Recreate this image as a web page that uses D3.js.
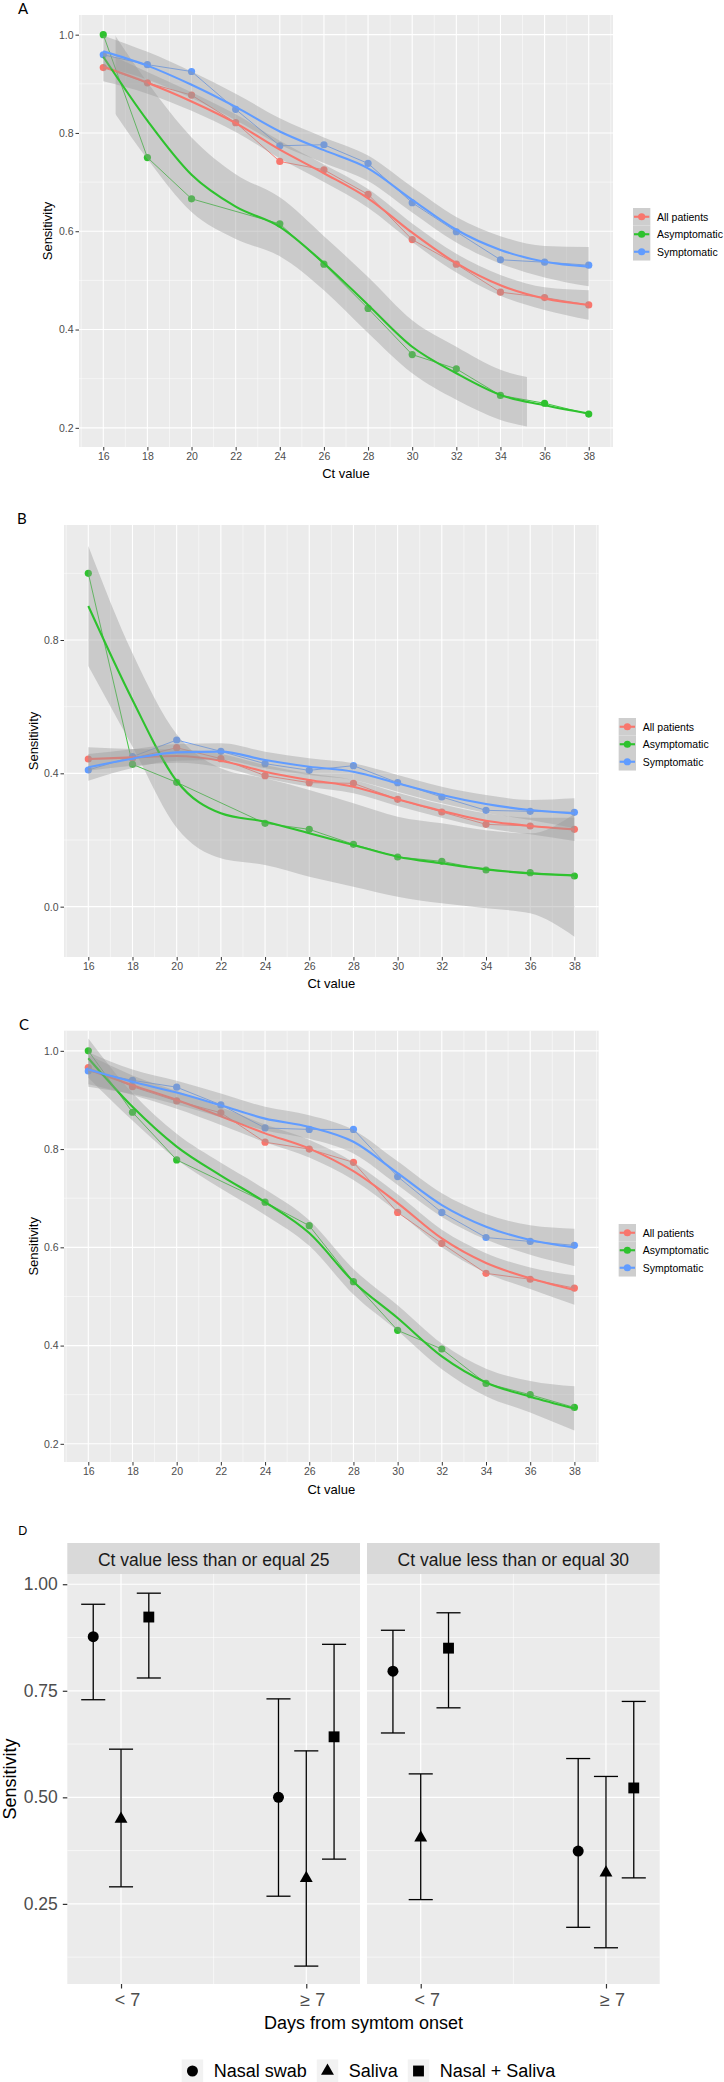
<!DOCTYPE html>
<html><head><meta charset="utf-8">
<script src="https://cdn.jsdelivr.net/npm/d3@7"></script>
<style>body{margin:0;background:#fff}svg{display:block;font-family:"Liberation Sans",Arial,sans-serif}</style>
</head><body>
<script>
// ---------------- DATA ----------------
const ctX = [16,18,20,22,24,26,28,30,32,34,36,38];
const ctTickLabels = ["16","18","20","22","24","26","28","30","32","34","36","38"];
const seriesNames = ["All patients","Asymptomatic","Symptomatic"];

// Panel A
const aAllPts  = [0.933,0.902,0.877,0.821,0.742,0.725,0.675,0.583,0.533,0.476,0.465,0.450];
const aAsymPts = [1.000,0.750,0.666,null,0.615,0.533,0.443,0.349,0.320,0.266,0.250,0.228];
const aSympPts = [0.959,0.939,0.925,0.848,0.774,0.776,0.738,0.658,0.599,0.542,0.537,0.531];
const aAllFit  = [0.935,0.902,0.864,0.820,0.766,0.718,0.667,0.597,0.535,0.490,0.463,0.450];
const aAsymFit = [0.955,0.825,0.715,0.650,0.609,0.535,0.450,0.365,0.311,0.267,0.246,0.229];
const aSympFit = [0.966,0.937,0.898,0.853,0.803,0.765,0.728,0.664,0.603,0.562,0.538,0.528];
const aAllSe   = [0.030,0.022,0.019,0.018,0.018,0.018,0.019,0.019,0.019,0.021,0.023,0.030];
const aAsymSe  = [0.080,0.078,0.076,0.066,0.060,0.055,0.057,0.054,0.054,0.051,0.050,0.050];
const aSympSe  = [0.032,0.028,0.027,0.027,0.027,0.026,0.026,0.026,0.026,0.028,0.032,0.040];
const aAsymBandRange = [16.56, 35.2];
const aYTicks = [0.2,0.4,0.6,0.8,1.0];
const aYTickLabels = ["0.2","0.4","0.6","0.8","1.0"];
const aYMinor = [0.3,0.5,0.7,0.9];

// Panel B
const bAllPts  = [0.443,0.445,0.477,0.444,0.393,0.372,0.370,0.322,0.284,0.247,0.242,0.232];
const bAsymPts = [1.000,0.427,0.373,null,0.250,0.232,0.187,0.149,0.136,0.110,0.102,0.092];
const bSympPts = [0.410,0.450,0.500,0.466,0.429,0.409,0.423,0.372,0.329,0.289,0.286,0.283];
const bAllFit  = [0.443,0.448,0.452,0.438,0.405,0.380,0.360,0.322,0.287,0.258,0.242,0.232];
const bAsymFit = [0.902,0.620,0.377,0.280,0.255,0.220,0.185,0.150,0.130,0.112,0.100,0.094];
const bSympFit = [0.418,0.444,0.463,0.465,0.440,0.420,0.405,0.370,0.335,0.308,0.290,0.280];
const bAllSe   = [0.035,0.025,0.020,0.020,0.020,0.020,0.020,0.020,0.020,0.022,0.025,0.035];
const bAsymSe  = [0.180,0.140,0.140,0.135,0.130,0.130,0.125,0.120,0.120,0.117,0.120,0.184];
const bSympSe  = [0.040,0.028,0.025,0.025,0.025,0.025,0.025,0.025,0.025,0.027,0.030,0.045];
const bYTicks = [0.0,0.4,0.8];
const bYTickLabels = ["0.0","0.4","0.8"];
const bYMinor = [0.2,0.6,1.0];

// Panel C
const cAllPts  = [0.966,0.927,0.898,0.874,0.814,0.800,0.773,0.671,0.608,0.547,0.535,0.517];
const cAsymPts = [1.000,0.875,0.778,null,0.692,0.644,0.530,0.431,0.393,0.323,0.300,0.274];
const cSympPts = [0.959,0.940,0.926,0.890,0.843,0.840,0.840,0.744,0.671,0.620,0.612,0.604];
const cAllFit  = [0.962,0.930,0.900,0.867,0.832,0.801,0.755,0.690,0.618,0.568,0.537,0.513];
const cAsymFit = [0.985,0.886,0.805,0.746,0.692,0.629,0.530,0.456,0.378,0.325,0.296,0.272];
const cSympFit = [0.962,0.937,0.915,0.889,0.862,0.845,0.815,0.751,0.686,0.642,0.615,0.600];
const cAllSe   = [0.030,0.020,0.018,0.018,0.018,0.018,0.018,0.018,0.018,0.020,0.022,0.030];
const cAsymSe  = [0.040,0.028,0.026,0.026,0.026,0.026,0.026,0.026,0.026,0.028,0.032,0.045];
const cSympSe  = [0.035,0.025,0.024,0.024,0.024,0.024,0.024,0.024,0.024,0.026,0.030,0.038];

// Panel D
const dFacets = ["Ct value less than or equal 25","Ct value less than or equal 30"];
const dGroups = ["< 7","\u2265 7"];
const dMethods = ["Nasal swab","Saliva","Nasal + Saliva"];
// order: <7 (nasal, saliva, nasal+saliva), >=7 (nasal, saliva, nasal+saliva)
const d25Est = [0.877,0.449,0.923, 0.500,0.310,0.642];
const d25Lo  = [0.729,0.290,0.780, 0.268,0.104,0.355];
const d25Hi  = [0.953,0.613,0.979, 0.731,0.609,0.859];
const d30Est = [0.796,0.405,0.850, 0.374,0.323,0.522];
const d30Lo  = [0.651,0.260,0.710, 0.195,0.147,0.311];
const d30Hi  = [0.892,0.555,0.933, 0.591,0.549,0.725];
const dYTicks = [0.25,0.50,0.75,1.00];
const dYTickLabels = ["0.25","0.50","0.75","1.00"];
const dYMinor = [0.125,0.375,0.625,0.875];

// ---------------- DRAWING ----------------
const W=724,H=2082;
const svg=d3.select("body").append("svg").attr("width",W).attr("height",H);
const defs=svg.append("defs");
const seriesColors=["#F8766D","#2EC22E","#619CFF"];
const ctMinor=[15,17,19,21,23,25,27,29,31,33,35,37,39];

function linePanel(cfg){
  const x=d3.scaleLinear().domain([14.9,39.1]).range([cfg.left,cfg.right]);
  const y=d3.scaleLinear().domain(cfg.yDomain).range([cfg.bottom,cfg.top]);
  const g=svg.append("g");
  g.append("rect").attr("x",cfg.left).attr("y",cfg.top).attr("width",cfg.right-cfg.left).attr("height",cfg.bottom-cfg.top).attr("fill","#EBEBEB");
  const grid=g.append("g").attr("stroke","#fff");
  ctMinor.forEach(v=>grid.append("line").attr("x1",x(v)).attr("x2",x(v)).attr("y1",cfg.top).attr("y2",cfg.bottom).attr("stroke-width",0.5));
  cfg.yMinor.forEach(v=>grid.append("line").attr("y1",y(v)).attr("y2",y(v)).attr("x1",cfg.left).attr("x2",cfg.right).attr("stroke-width",0.5));
  ctX.forEach(v=>grid.append("line").attr("x1",x(v)).attr("x2",x(v)).attr("y1",cfg.top).attr("y2",cfg.bottom).attr("stroke-width",1.1));
  cfg.yTicks.forEach(v=>grid.append("line").attr("y1",y(v)).attr("y2",y(v)).attr("x1",cfg.left).attr("x2",cfg.right).attr("stroke-width",1.1));

  defs.append("clipPath").attr("id","clip"+cfg.id).append("rect")
    .attr("x",cfg.left).attr("y",cfg.top).attr("width",cfg.right-cfg.left).attr("height",cfg.bottom-cfg.top);
  const plot=g.append("g").attr("clip-path",`url(#clip${cfg.id})`);

  cfg.series.forEach((s,i)=>{
    const pts=ctX.map((c,j)=>({c,v:s.pts[j]})).filter(d=>d.v!=null);
    plot.append("path").datum(pts).attr("d",d3.line().x(d=>x(d.c)).y(d=>y(d.v)))
      .attr("fill","none").attr("stroke",seriesColors[i]).attr("stroke-width",0.9);
  });
  cfg.series.forEach((s,i)=>{
    const pts=ctX.map((c,j)=>({c,v:s.pts[j]})).filter(d=>d.v!=null);
    plot.selectAll(null).data(pts).enter().append("circle")
      .attr("cx",d=>x(d.c)).attr("cy",d=>y(d.v)).attr("r",3.6).attr("fill",seriesColors[i]);
  });
  cfg.series.forEach((s,i)=>{
    const fd=ctX.map((c,j)=>({c,f:s.fit[j],e:s.se[j]}));
    let bandG=plot;
    if(s.band){
      const cid="band"+cfg.id+i;
      defs.append("clipPath").attr("id",cid).append("rect")
        .attr("x",x(s.band[0])).attr("y",cfg.top).attr("width",x(s.band[1])-x(s.band[0])).attr("height",cfg.bottom-cfg.top);
      bandG=plot.append("g").attr("clip-path",`url(#${cid})`);
    }
    bandG.append("path").datum(fd)
      .attr("d",d3.area().curve(d3.curveMonotoneX).x(d=>x(d.c)).y0(d=>y(d.f-d.e)).y1(d=>y(d.f+d.e)))
      .attr("fill","#999999").attr("fill-opacity",0.4);
    plot.append("path").datum(fd)
      .attr("d",d3.line().curve(d3.curveMonotoneX).x(d=>x(d.c)).y(d=>y(d.f)))
      .attr("fill","none").attr("stroke",seriesColors[i]).attr("stroke-width",2.1);
  });

  // axes
  const ya=g.append("g").attr("transform",`translate(${cfg.left},0)`)
    .call(d3.axisLeft(y).tickValues(cfg.yTicks).tickFormat((d,i)=>cfg.yTickLabels[i]).tickSize(3.5).tickPadding(2));
  const xa=g.append("g").attr("transform",`translate(0,${cfg.bottom})`)
    .call(d3.axisBottom(x).tickValues(ctX).tickFormat((d,i)=>ctTickLabels[i]).tickSize(3.5).tickPadding(2.5));
  [ya,xa].forEach(a=>{
    a.select(".domain").remove();
    a.selectAll(".tick line").attr("stroke","#333333").attr("stroke-width",1);
    a.selectAll(".tick text").attr("fill","#4D4D4D").style("font-size",cfg.tickFont+"px").style("font-family","'Liberation Sans',Arial,sans-serif");
  });
  g.append("text").attr("x",(cfg.left+cfg.right)/2).attr("y",cfg.xTitleY).attr("text-anchor","middle")
    .attr("dominant-baseline","central").style("font-size","13px").attr("fill","#000").text("Ct value");
  g.append("text").attr("transform",`translate(${cfg.yTitleX},${(cfg.top+cfg.bottom)/2}) rotate(-90)`)
    .attr("text-anchor","middle").attr("dominant-baseline","central").style("font-size","13px").attr("fill","#000").text("Sensitivity");
  g.append("text").attr("x",cfg.letter[1]).attr("y",cfg.letter[2]).style("font-family","Lato,'Open Sans',sans-serif")
    .style("font-size","15px").attr("fill","#000").text(cfg.letter[0]);

  // legend
  const kw=17.3,kh=17.5;
  const lg=g.append("g").attr("transform",`translate(${cfg.legendX},${cfg.legendTop})`);
  seriesNames.forEach((n,i)=>{
    const ky=i*kh;
    lg.append("rect").attr("x",0).attr("y",ky).attr("width",kw).attr("height",kh).attr("fill","#F2F2F2");
    lg.append("rect").attr("x",0).attr("y",ky).attr("width",kw).attr("height",kh).attr("fill","#999999").attr("fill-opacity",0.4);
    lg.append("line").attr("x1",1).attr("x2",kw-1).attr("y1",ky+kh/2).attr("y2",ky+kh/2).attr("stroke",seriesColors[i]).attr("stroke-width",2.1);
    lg.append("circle").attr("cx",kw/2).attr("cy",ky+kh/2).attr("r",3.6).attr("fill",seriesColors[i]);
    lg.append("text").attr("x",kw+cfg.legendGap).attr("y",ky+kh/2).attr("dominant-baseline","central")
      .style("font-size","10.5px").attr("fill","#000").text(n);
  });
}

linePanel({id:"A",left:79,right:613,top:15,bottom:447,yDomain:[0.161,1.040],
  yTicks:aYTicks,yTickLabels:aYTickLabels,yMinor:aYMinor,tickFont:10.5,
  series:[{pts:aAllPts,fit:aAllFit,se:aAllSe},{pts:aAsymPts,fit:aAsymFit,se:aAsymSe,band:aAsymBandRange},{pts:aSympPts,fit:aSympFit,se:aSympSe}],
  xTitleY:473,yTitleX:47.5,letter:["A",18,14],legendX:633,legendTop:208,legendGap:6.7});

linePanel({id:"B",left:64,right:598.7,top:525,bottom:957,yDomain:[-0.151,1.145],
  yTicks:bYTicks,yTickLabels:bYTickLabels,yMinor:bYMinor,tickFont:10.5,
  series:[{pts:bAllPts,fit:bAllFit,se:bAllSe},{pts:bAsymPts,fit:bAsymFit,se:bAsymSe},{pts:bSympPts,fit:bSympFit,se:bSympSe}],
  xTitleY:983,yTitleX:33.5,letter:["B",17,524],legendX:618.7,legendTop:718,legendGap:6.7});

linePanel({id:"C",left:64,right:598.7,top:1030.7,bottom:1462,yDomain:[0.163,1.041],
  yTicks:aYTicks,yTickLabels:aYTickLabels,yMinor:aYMinor,tickFont:10.5,
  series:[{pts:cAllPts,fit:cAllFit,se:cAllSe},{pts:cAsymPts,fit:cAsymFit,se:cAsymSe},{pts:cSympPts,fit:cSympFit,se:cSympSe}],
  xTitleY:1489,yTitleX:33.5,letter:["C",19,1030],legendX:618.7,legendTop:1224,legendGap:6.7});

// ---------- Panel D ----------
(function(){
  const top=1574,bottom=1984,stripTop=1543;
  const y=d3.scaleLinear().domain([0.062,1.024]).range([bottom,top]);
  const facets=[
    {left:67.3,right:360,title:dFacets[0],est:d25Est,lo:d25Lo,hi:d25Hi},
    {left:367,right:659.7,title:dFacets[1],est:d30Est,lo:d30Lo,hi:d30Hi}];
  const dodge=[-0.15,0,0.15];
  const capHalf=0.065;
  const shapes=[d3.symbolCircle,d3.symbolTriangle,d3.symbolSquare];
  const sizes=[95,72,118];
  const g=svg.append("g");
  facets.forEach((f,fi)=>{
    const x=d3.scaleLinear().domain([0.71,2.29]).range([f.left,f.right]);
    g.append("rect").attr("x",f.left).attr("y",stripTop).attr("width",f.right-f.left).attr("height",top-stripTop).attr("fill","#D9D9D9");
    g.append("text").attr("x",(f.left+f.right)/2).attr("y",(stripTop+top)/2+1).attr("text-anchor","middle")
      .attr("dominant-baseline","central").style("font-size","17.5px").attr("fill","#1A1A1A").text(f.title);
    g.append("rect").attr("x",f.left).attr("y",top).attr("width",f.right-f.left).attr("height",bottom-top).attr("fill","#EBEBEB");
    const grid=g.append("g").attr("stroke","#fff");
    dYMinor.forEach(v=>grid.append("line").attr("x1",f.left).attr("x2",f.right).attr("y1",y(v)).attr("y2",y(v)).attr("stroke-width",0.6));
    grid.append("line").attr("x1",x(1.5)).attr("x2",x(1.5)).attr("y1",top).attr("y2",bottom).attr("stroke-width",0.6);
    dYTicks.forEach(v=>grid.append("line").attr("x1",f.left).attr("x2",f.right).attr("y1",y(v)).attr("y2",y(v)).attr("stroke-width",1.2));
    [1,2].forEach(v=>grid.append("line").attr("x1",x(v)).attr("x2",x(v)).attr("y1",top).attr("y2",bottom).attr("stroke-width",1.2));

    const rows=[];
    dGroups.forEach((grp,gi)=>dMethods.forEach((m,mi)=>{
      const k=gi*3+mi;
      rows.push({xv:gi+1+dodge[mi],mi,est:f.est[k],lo:f.lo[k],hi:f.hi[k]});
    }));
    const eb=g.append("g").attr("stroke","#000").attr("stroke-width",1.3);
    rows.forEach(r=>{
      eb.append("line").attr("x1",x(r.xv)).attr("x2",x(r.xv)).attr("y1",y(r.lo)).attr("y2",y(r.hi));
      eb.append("line").attr("x1",x(r.xv-capHalf)).attr("x2",x(r.xv+capHalf)).attr("y1",y(r.lo)).attr("y2",y(r.lo));
      eb.append("line").attr("x1",x(r.xv-capHalf)).attr("x2",x(r.xv+capHalf)).attr("y1",y(r.hi)).attr("y2",y(r.hi));
    });
    rows.forEach(r=>{
      g.append("path").attr("d",d3.symbol().type(shapes[r.mi]).size(sizes[r.mi])())
        .attr("transform",`translate(${x(r.xv)},${y(r.est)})`).attr("fill","#000");
    });
    const xa=g.append("g").attr("transform",`translate(0,${bottom})`)
      .call(d3.axisBottom(x).tickValues([1,2]).tickFormat((d,i)=>dGroups[i]).tickSize(4.5).tickPadding(5));
    xa.select(".domain").remove();
    xa.selectAll(".tick line").attr("stroke","#333").attr("stroke-width",1.2);
    xa.selectAll(".tick text").attr("fill","#4D4D4D").attr("dx",6).style("font-size","18px").style("font-family","'Liberation Sans',Arial,sans-serif");
    if(fi===0){
      const ya=g.append("g").attr("transform",`translate(${f.left},0)`)
        .call(d3.axisLeft(y).tickValues(dYTicks).tickFormat((d,i)=>dYTickLabels[i]).tickSize(4.5).tickPadding(5));
      ya.select(".domain").remove();
      ya.selectAll(".tick line").attr("stroke","#333").attr("stroke-width",1.2);
      ya.selectAll(".tick text").attr("fill","#4D4D4D").style("font-size","17.5px").style("font-family","'Liberation Sans',Arial,sans-serif");
    }
  });
  g.append("text").attr("x",18.3).attr("y",1535).style("font-size","12.5px").attr("fill","#000").text("D");
  g.append("text").attr("x",363.5).attr("y",2023).attr("text-anchor","middle").attr("dominant-baseline","central")
    .style("font-size","18px").attr("fill","#000").text("Days from symtom onset");
  g.append("text").attr("transform",`translate(10,${(top+bottom)/2}) rotate(-90)`).attr("text-anchor","middle")
    .attr("dominant-baseline","central").style("font-size","18px").attr("fill","#000").text("Sensitivity");

  // legend
  const lg=g.append("g");
  const cy=2071, kw=21.5;
  let cx=0;
  const items=[];
  dMethods.forEach((m,i)=>{
    const it=lg.append("g");
    it.append("rect").attr("x",cx).attr("y",cy-11.5).attr("width",kw).attr("height",23).attr("fill","#F2F2F2");
    it.append("path").attr("d",d3.symbol().type(shapes[i]).size(sizes[i])()).attr("transform",`translate(${cx+kw/2},${cy})`).attr("fill","#000");
    const t=it.append("text").attr("x",cx+kw+10.5).attr("y",cy).attr("dominant-baseline","central")
      .style("font-size","18px").attr("fill","#000").text(m);
    const w=t.node().getComputedTextLength();
    cx=cx+kw+10.5+w+10;
  });
  const total=cx-10;
  lg.attr("transform",`translate(${368.5-total/2},0)`);
})();
</script>
</body></html>
